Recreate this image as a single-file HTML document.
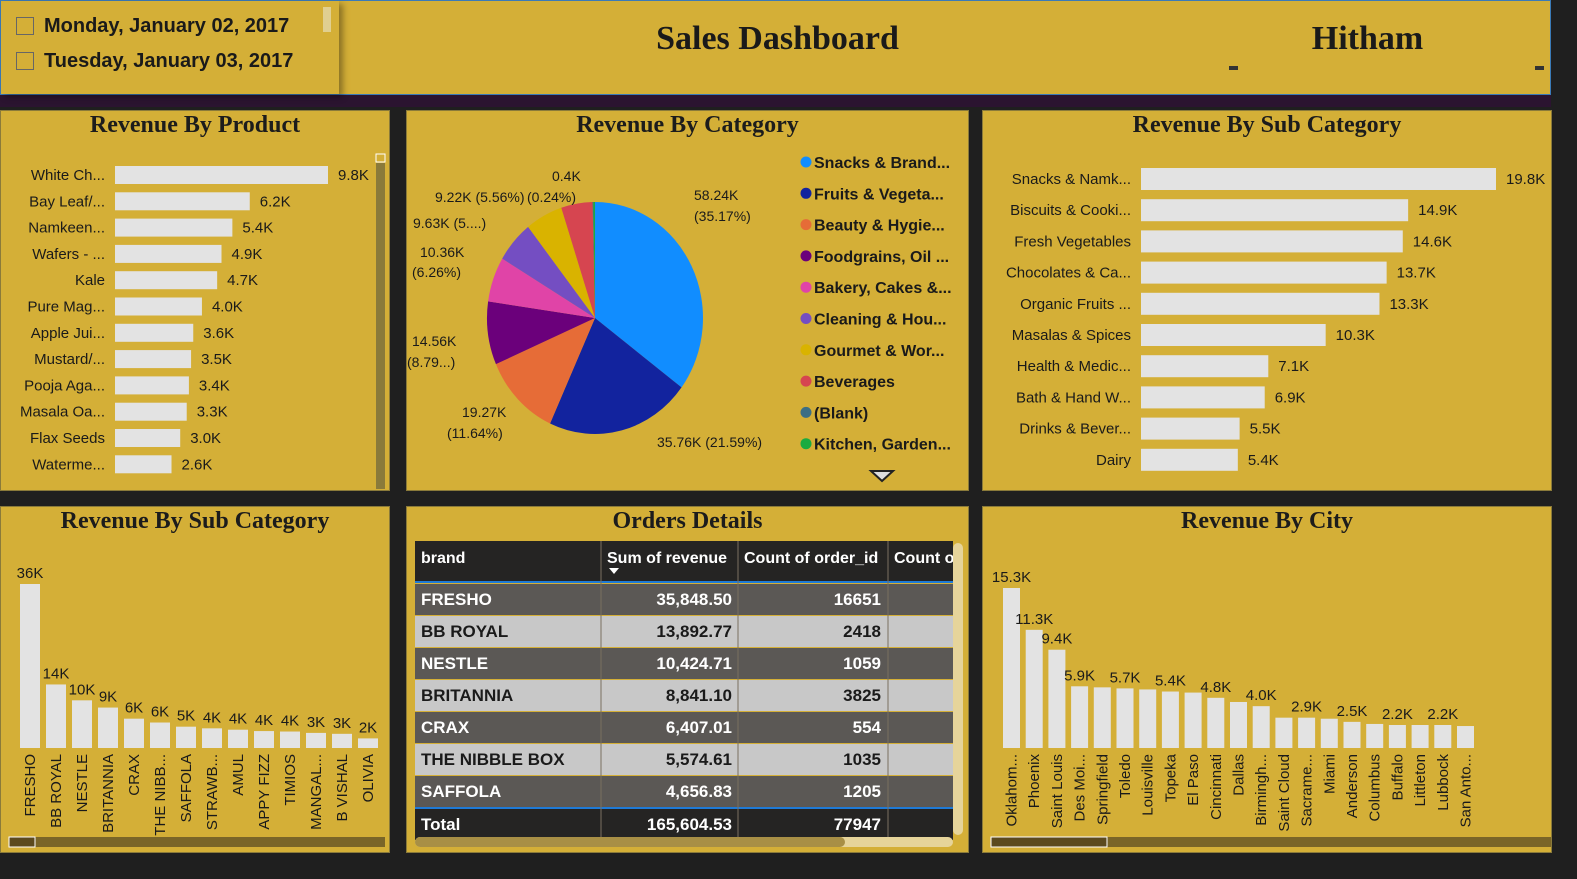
<!DOCTYPE html>
<html><head><meta charset="utf-8">
<style>
*{box-sizing:border-box;margin:0;padding:0}
body{width:1577px;height:879px;background:#1f1f1f;position:relative;overflow:hidden;font-family:"Liberation Sans","DejaVu Sans",sans-serif;color:#1a1a1a}
.panel{position:absolute;background:#d4af37;border:1px solid #8a7a3a}
.ttl{position:absolute;left:0;right:0;top:1px;text-align:center;font-family:"Liberation Serif",serif;font-weight:bold;font-size:24px;color:#1c1c1c}
svg text{font-family:"Liberation Sans","DejaVu Sans",sans-serif}
</style></head><body>
<div style="position:absolute;left:0;top:0;width:1551px;height:95px;background:#d4af37;border:1px solid #3a7ab8"></div>
<div style="position:absolute;left:0;top:95px;width:1551px;height:12px;background:#2b1430"></div>
<div style="position:absolute;left:1px;top:1px;width:338px;height:93px;background:#d4af37;box-shadow:4px 3px 6px rgba(0,0,0,.35)">
 <div style="position:absolute;left:15px;top:14px;font-weight:bold;font-size:20px"><span style="display:inline-block;width:18px;height:18px;border:1px solid #666;vertical-align:-3px;margin-right:10px"></span>Monday, January 02, 2017</div>
 <div style="position:absolute;left:15px;top:49px;font-weight:bold;font-size:20px"><span style="display:inline-block;width:18px;height:18px;border:1px solid #666;vertical-align:-3px;margin-right:10px"></span>Tuesday, January 03, 2017</div>
 <div style="position:absolute;left:322px;top:6px;width:8px;height:25px;background:#e0cf90"></div>
</div>
<div style="position:absolute;left:580px;top:20px;width:395px;text-align:center;font-family:'Liberation Serif',serif;font-weight:bold;font-size:34px">Sales Dashboard</div>
<div style="position:absolute;left:1270px;top:20px;width:195px;text-align:center;font-family:'Liberation Serif',serif;font-weight:bold;font-size:34px">Hitham</div>
<div style="position:absolute;left:1229px;top:66px;width:9px;height:4px;background:#333"></div>
<div style="position:absolute;left:1535px;top:66px;width:9px;height:4px;background:#333"></div>

<div class="panel" style="left:0;top:110px;width:390px;height:381px"><div class="ttl">Revenue By Product</div><svg id="prod" width="390" height="381"></svg></div>
<div class="panel" style="left:406px;top:110px;width:563px;height:381px"><div class="ttl">Revenue By Category</div><svg id="pie" width="563" height="381"></svg></div>
<div class="panel" style="left:982px;top:110px;width:570px;height:381px"><div class="ttl">Revenue By Sub Category</div><svg id="sub" width="570" height="381"></svg></div>
<div class="panel" style="left:0;top:506px;width:390px;height:347px"><div class="ttl">Revenue By Sub Category</div><svg id="brand" width="390" height="347"></svg></div>
<div class="panel" style="left:406px;top:506px;width:563px;height:347px"><div class="ttl">Orders Details</div><svg id="tbl" width="563" height="347"></svg></div>
<div class="panel" style="left:982px;top:506px;width:570px;height:347px"><div class="ttl">Revenue By City</div><svg id="city" width="570" height="347"></svg></div>

<script>
const productNames=["White Ch...","Bay Leaf/...","Namkeen...","Wafers - ...","Kale","Pure Mag...","Apple Jui...","Mustard/...","Pooja Aga...","Masala Oa...","Flax Seeds","Waterme..."];
const productValues=[9.8,6.2,5.4,4.9,4.7,4.0,3.6,3.5,3.4,3.3,3.0,2.6];
const subNames=["Snacks & Namk...","Biscuits & Cooki...","Fresh Vegetables","Chocolates & Ca...","Organic Fruits ...","Masalas & Spices","Health & Medic...","Bath & Hand W...","Drinks & Bever...","Dairy"];
const subValues=[19.8,14.9,14.6,13.7,13.3,10.3,7.1,6.9,5.5,5.4];
const catNames=["Snacks & Brand...","Fruits & Vegeta...","Beauty & Hygie...","Foodgrains, Oil ...","Bakery, Cakes &...","Cleaning & Hou...","Gourmet & Wor...","Beverages","(Blank)","Kitchen, Garden..."];
const catValues=[58.24,35.76,19.27,14.56,10.36,9.63,9.22,7.76,0.2,0.4];
const catColors=["#118DFF","#12239E","#E66C37","#6B007B","#E044A7","#744EC2","#D9B300","#D64550","#3b6e84","#1AAB40"];
const brandNames=["FRESHO","BB ROYAL","NESTLE","BRITANNIA","CRAX","THE NIBB...","SAFFOLA","STRAWB...","AMUL","APPY FIZZ","TIMIOS","MANGAL...","B VISHAL","OLIVIA"];
const brandValues=[35.85,13.89,10.42,8.84,6.41,5.57,4.66,4.3,4.0,3.7,3.6,3.3,3.1,2.1];
const brandLabels=["36K","14K","10K","9K","6K","6K","5K","4K","4K","4K","4K","3K","3K","2K"];
const cityNames=["Oklahom...","Phoenix","Saint Louis","Des Moi...","Springfield","Toledo","Louisville","Topeka","El Paso","Cincinnati","Dallas","Birmingh...","Saint Cloud","Sacrame...","Miami","Anderson","Columbus","Buffalo","Littleton","Lubbock","San Anto..."];
const cityValues=[15.3,11.3,9.4,5.9,5.8,5.7,5.6,5.4,5.3,4.8,4.4,4.0,2.9,2.9,2.8,2.5,2.3,2.2,2.2,2.2,2.1];
const cityLabels=["15.3K","11.3K","9.4K","5.9K","","5.7K","","5.4K","","4.8K","","4.0K","","2.9K","","2.5K","","2.2K","","2.2K",""];
const tableHead=["brand","Sum of revenue","Count of order_id","Count o"];
const tableBrands=["FRESHO","BB ROYAL","NESTLE","BRITANNIA","CRAX","THE NIBBLE BOX","SAFFOLA"];
const tableRevenue=["35,848.50","13,892.77","10,424.71","8,841.10","6,407.01","5,574.61","4,656.83"];
const tableCounts=["16651","2418","1059","3825","554","1035","1205"];
const tableTotal=["Total","165,604.53","77947"];

const NS="http://www.w3.org/2000/svg";
function mk(p,tag,a,txt){const e=document.createElementNS(NS,tag);for(const k in a)e.setAttribute(k,a[k]);if(txt!==undefined)e.textContent=txt;p.appendChild(e);return e;}

function hbars(id,names,vals,x0,pxMax,vmax,y0,step,bh,fs,nameName){
 const s=document.getElementById(id);
 const sc=v=>v/vmax*pxMax;
 names.forEach((n,i)=>{
  const yc=y0+i*step;
  const t=mk(s,'text',{x:x0-10,y:yc+5,'text-anchor':'end','font-size':fs,fill:'#1a1a1a'},n);
  
  
  const r=mk(s,'rect',{x:x0,y:yc-bh/2,width:sc(vals[i]),height:bh,fill:'#e3e3e3'});
  
  
  const v=mk(s,'text',{x:x0+sc(vals[i])+10,y:yc+5,'font-size':fs,fill:'#1a1a1a'},vals[i].toFixed(1)+'K');
  
  
 });
}
hbars('prod',productNames,productValues,114,213,9.8,64,26.3,18,15,'product');
(function(){const s=document.getElementById('prod');
 const a=mk(s,'rect',{x:375,y:52,width:9,height:326,fill:'#8a7a3a'});
 const b=mk(s,'rect',{x:375,y:43,width:9,height:8,fill:'none',stroke:'#fff'});})();
hbars('sub',subNames,subValues,158,355,19.8,68,31.2,22,15,'subcategory');

(function(){
 const s=document.getElementById('pie');
 const cx=188,cy=207,rx=108,ry=116;
 const tot=catValues.reduce((a,b)=>a+b,0);
 let ang=0;
 catValues.forEach((v,i)=>{
  const a0=ang,a1=ang+v/tot*2*Math.PI;ang=a1;
  const x0=cx+rx*Math.sin(a0),y0=cy-ry*Math.cos(a0),x1=cx+rx*Math.sin(a1),y1=cy-ry*Math.cos(a1);
  const p=mk(s,'path',{d:`M${cx},${cy}L${x0},${y0}A${rx},${ry} 0 ${a1-a0>Math.PI?1:0} 1 ${x1},${y1}Z`,fill:catColors[i]});
  
  
 });
 const labs=[[287,89,"58.24K"],[287,110,"(35.17%)"],[250,336,"35.76K (21.59%)"],[55,306,"19.27K"],[40,327,"(11.64%)"],[5,235,"14.56K"],[0,256,"(8.79...)"],[13,146,"10.36K"],[5,166,"(6.26%)"],[6,117,"9.63K (5....)"],[28,91,"9.22K (5.56%)"],[120,91,"(0.24%)"],[145,70,"0.4K"]];
 labs.forEach(l=>{const t=mk(s,'text',{x:l[0],y:l[1],'font-size':14,fill:'#1a1a1a'},l[2]);});
 catNames.forEach((n,i)=>{
  const y=51+i*31.3;
  const c=mk(s,'circle',{cx:399,cy:y,r:5.5,fill:catColors[i]});
  const t=mk(s,'text',{x:407,y:y+6,'font-size':16,'font-weight':'bold',fill:'#1a1a1a'},n);
 });
 const tr=mk(s,'path',{d:'M464,360L486,360L475,370Z',fill:'#ddd',stroke:'#222','stroke-width':2});
})();

function vbars(id,names,vals,labels,x0,step,bw,base,pxPerK,nameName,fs){
 const s=document.getElementById(id);
 names.forEach((n,i)=>{
  const x=x0+i*step,h=vals[i]*pxPerK;
  const r=mk(s,'rect',{x:x,y:base-h,width:bw,height:h,fill:'#e3e3e3'});
  
  
  if(labels[i]){const t=mk(s,'text',{x:x+bw/2,y:base-h-6,'text-anchor':'middle','font-size':15,fill:'#1a1a1a'},labels[i]);
   
   }
  const cx=x+bw/2+5,ty=base+6;
  const t2=mk(s,'text',{x:0,y:0,'text-anchor':'end','font-size':fs,fill:'#1a1a1a',transform:`translate(${cx},${ty}) rotate(-90)`},n);
  
  
 });
}
vbars('brand',brandNames,brandValues,brandLabels,19,26,20,241,164/35.85,'brand',15);
vbars('city',cityNames,cityValues,cityLabels,20,22.7,17,241,160/15.3,'city',15);
(function(){
 [['brand',8,330,376,26],['city',8,330,560,116]].forEach(c=>{const s=document.getElementById(c[0]);
  const a=mk(s,'rect',{x:c[1],y:c[2],width:c[3],height:10,fill:'#7a6528'});
  const b=mk(s,'rect',{x:c[1],y:c[2],width:c[4],height:10,fill:'#5c4a1e',stroke:'#fff'});});
})();

(function(){
 const s=document.getElementById('tbl');
 const X=[8,194,331,481];
 const hdr=mk(s,'rect',{x:8,y:34,width:538,height:42,fill:'#252423'});
 mk(s,'line',{x1:8,y1:75,x2:546,y2:75,stroke:'#1f7ad6','stroke-width':2});
 tableHead.forEach((h,j)=>{const t=mk(s,'text',{x:X[j]+6,y:56,'font-size':16,'font-weight':'bold',fill:'#fff'},h);});
 mk(s,'path',{d:'M202,61L212,61L207,67Z',fill:'#fff'});
 tableBrands.forEach((b,i)=>{
  const y=77+i*32,dark=i%2==0,fc=dark?'#fff':'#1a1a1a';
  const r=mk(s,'rect',{x:8,y:y,width:538,height:31,fill:dark?'#5b5855':'#c8c8c8'});
  const t1=mk(s,'text',{x:14,y:y+21,'font-size':17,'font-weight':'bold',fill:fc},b);
  const t2=mk(s,'text',{x:325,y:y+21,'text-anchor':'end','font-size':17,'font-weight':'bold',fill:fc},tableRevenue[i]);
  const t3=mk(s,'text',{x:474,y:y+21,'text-anchor':'end','font-size':17,'font-weight':'bold',fill:fc},tableCounts[i]);
 });
 const ty=77+7*32;
 const tr=mk(s,'rect',{x:8,y:ty,width:538,height:32,fill:'#252423'});
 mk(s,'line',{x1:8,y1:ty,x2:546,y2:ty,stroke:'#1f7ad6','stroke-width':2});
 [[14,'start'],[325,'end'],[474,'end']].forEach((c,j)=>{const t=mk(s,'text',{x:c[0],y:ty+22,'text-anchor':c[1],'font-size':17,'font-weight':'bold',fill:'#fff'},tableTotal[j]);});
 [194,331,481].forEach(x=>mk(s,'line',{x1:x,y1:34,x2:x,y2:ty+32,stroke:'#7a7060','stroke-width':1}));
 const vs=mk(s,'rect',{x:546,y:36,width:10,height:292,rx:5,fill:'#e6d49a'});
 const hs=mk(s,'rect',{x:8,y:330,width:538,height:10,rx:5,fill:'#e6d49a'});
 const hh=mk(s,'rect',{x:8,y:330,width:430,height:10,rx:5,fill:'#a88f45'});
})();
</script>
</body></html>
